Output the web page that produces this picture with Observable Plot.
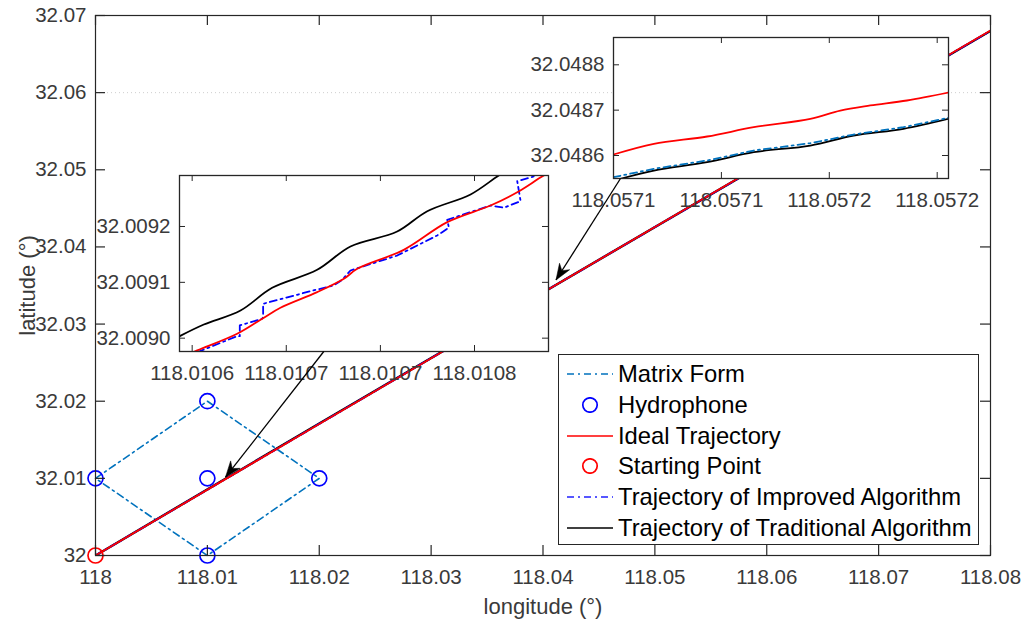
<!DOCTYPE html>
<html><head><meta charset="utf-8">
<script src="https://cdn.jsdelivr.net/npm/d3@7"></script>
<script src="https://cdn.jsdelivr.net/npm/@observablehq/plot@0.6"></script>
<style>
body{margin:0;background:#fff;}
#fig{position:relative;width:1024px;height:627px;overflow:hidden;font-family:"Liberation Sans",Arial,sans-serif;background:#fff;}
#fig > svg{position:absolute;max-width:none;}
.legend{position:absolute;left:558px;top:354px;width:421px;height:191px;border:1.5px solid #262626;background:#fff;box-sizing:border-box;padding-top:3.5px;}
.legend .row{height:30.85px;display:flex;align-items:center;font-size:23.8px;color:#000;white-space:nowrap;}
.legend .row svg{position:static;display:block;margin-left:8px;margin-right:5px;flex:none;}
</style></head><body><div id="fig"></div>
<script>
// ---------- data ----------
const xTicks = [118, 118.01, 118.02, 118.03, 118.04, 118.05, 118.06, 118.07, 118.08];
const xTickLabels = ["118", "118.01", "118.02", "118.03", "118.04", "118.05", "118.06", "118.07", "118.08"];
const yTicks = [32, 32.01, 32.02, 32.03, 32.04, 32.05, 32.06, 32.07];
const yTickLabels = ["32", "32.01", "32.02", "32.03", "32.04", "32.05", "32.06", "32.07"];
const gridLat = [32.06];
const xTitle = ["longitude (°)"];
const yTitle = ["latitude (°)"];

const hydrophoneLon = [118, 118.01, 118.01, 118.02, 118.01];
const hydrophoneLat = [32.01, 32.02, 32.01, 32.01, 32.0];
const matrixLon = [118, 118.01, 118.02, 118.01, 118];
const matrixLat = [32.01, 32.02, 32.01, 32.0, 32.01];
const startLon = [118];
const startLat = [32];

const mainLon = [118, 118.0107, 118.02, 118.04, 118.0571, 118.08];
const idealLat = [32, 32.00912, 32.01705, 32.03408, 32.04862, 32.06806];
const traditionalLat = [32, 32.00917, 32.0171, 32.0341, 32.04858, 32.068];
const improvedLat = [32, 32.00913, 32.01706, 32.03409, 32.04858, 32.06802];

// zoom arrows (tail -> tip)
const arrowTailLon = [118.020406, 118.046927];
const arrowTailLat = [32.026444, 32.048870];
const arrowTipLon = [118.011620, 118.041162];
const arrowTipLat = [32.010150, 32.035713];

// inset 1 (near 118.0107, 32.0091)
const inset1XTicks = [118.0106, 118.01065, 118.0107, 118.01075];
const inset1XTickLabels = ["118.0106", "118.0107", "118.0107", "118.0108"];
const inset1YTicks = [32.00905, 32.0091, 32.00915];
const inset1YTickLabels = ["32.0090", "32.0091", "32.0092"];
const inset1IdealLon = [118.01059, 118.0106027, 118.0106239, 118.0106372, 118.0106469, 118.0106664, 118.0106806, 118.0106877, 118.0107124, 118.0107355, 118.0107585, 118.0107727, 118.0107868, 118.010795];
const inset1IdealLat = [32.00903, 32.009039, 32.0090539, 32.0090674, 32.0090772, 32.0090912, 32.0091032, 32.0091121, 32.0091291, 32.0091539, 32.0091688, 32.0091807, 32.0091957, 32.009203];
const inset1TraditionalLon = [118.0105934, 118.0106062, 118.0106257, 118.0106425, 118.0106664, 118.0106841, 118.0107089, 118.0107249, 118.0107479, 118.0107629, 118.010775];
const inset1TraditionalLat = [32.0090518, 32.0090622, 32.0090748, 32.0090951, 32.0091112, 32.0091321, 32.0091455, 32.0091637, 32.0091787, 32.0091957, 32.009208];
const inset1ImprovedLon = [118.0106027, 118.0106239, 118.0106253, 118.0106253, 118.0106372, 118.0106377, 118.0106377, 118.0106629, 118.0106752, 118.0106797, 118.0106841, 118.0107089, 118.010716, 118.0107302, 118.0107364, 118.0107355, 118.0107585, 118.0107656, 118.0107745, 118.0107727, 118.0107815, 118.01079];
const inset1ImprovedLat = [32.0090374, 32.0090518, 32.0090518, 32.0090614, 32.0090674, 32.0090688, 32.0090808, 32.0090921, 32.0090972, 32.0091023, 32.0091106, 32.009124, 32.00913, 32.009142, 32.0091489, 32.009156, 32.0091688, 32.0091668, 32.0091727, 32.0091906, 32.0091948, 32.0092];

// inset 2 (near 118.0571, 32.0487)
const inset2XTicks = [118.05705, 118.0571, 118.05715, 118.0572];
const inset2XTickLabels = ["118.0571", "118.0571", "118.0572", "118.0572"];
const inset2YTicks = [32.0486, 32.0487, 32.0488];
const inset2YTickLabels = ["32.0486", "32.0487", "32.0488"];
const inset2IdealLon = [118.05705, 118.0570687, 118.0570934, 118.057115, 118.0571412, 118.0571551, 118.057169, 118.057186, 118.0572052];
const inset2IdealLat = [32.0486022, 32.0486258, 32.0486419, 32.0486624, 32.0486809, 32.0486992, 32.0487103, 32.0487213, 32.0487389];
const inset2TraditionalLon = [118.0570532, 118.0570687, 118.0570934, 118.057115, 118.0571412, 118.0571613, 118.0571844, 118.0572052];
const inset2TraditionalLat = [32.0485486, 32.0485669, 32.0485852, 32.0486073, 32.048622, 32.0486441, 32.0486589, 32.0486809];
const inset2ImprovedLon = [118.05705, 118.0570687, 118.0570934, 118.057115, 118.0571412, 118.0571613, 118.0571844, 118.0572052];
const inset2ImprovedLat = [32.0485522, 32.0485707, 32.048589, 32.048611, 32.0486271, 32.0486463, 32.0486624, 32.0486831];

const legendLabels = ["Matrix Form", "Hydrophone", "Ideal Trajectory", "Starting Point", "Trajectory of Improved Algorithm", "Trajectory of Traditional Algorithm"];

// ---------- styles ----------
const RED = "#ff0000", BLUE = "#0000ff", MATRIX = "#0072BD", BLACK = "#000000", AXIS = "#262626";
const DASHDOT = "7,4,2,4";
const FONT = '"Liberation Sans", Arial, sans-serif';
const rows = (xs, ys) => xs.map((x, i) => ({x, y: ys[i]}));
const fig = document.getElementById("fig");

// ---------- main axes ----------
const W = 1024, H = 627, mL = 95, mR = 34, mT = 15, mB = 72;
const fw = W - mL - mR, fh = H - mT - mB;
const xDom = [118, 118.08], yDom = [32, 32.07];

const main = Plot.plot({
  width: W, height: H, marginLeft: mL, marginRight: mR, marginTop: mT, marginBottom: mB,
  style: {fontFamily: FONT, fontSize: "20.5px", color: "#3a3a3a", background: "transparent", overflow: "visible"},
  x: {domain: xDom}, y: {domain: yDom},
  marks: [
    Plot.ruleY(gridLat, {y: d => d, stroke: "#cfcfcf", strokeDasharray: "1,3", strokeWidth: 1}),
    Plot.line(rows(matrixLon, matrixLat), {x: "x", y: "y", stroke: MATRIX, strokeWidth: 1.6, strokeDasharray: DASHDOT}),
    Plot.line(rows(mainLon, traditionalLat), {x: "x", y: "y", stroke: BLACK, strokeWidth: 2.4, clip: true}),
    Plot.line(rows(mainLon, improvedLat), {x: "x", y: "y", stroke: BLUE, strokeWidth: 2, strokeDasharray: DASHDOT, clip: true}),
    Plot.line(rows(mainLon, idealLat), {x: "x", y: "y", stroke: RED, strokeWidth: 1.8, clip: true}),
    Plot.dot(rows(hydrophoneLon, hydrophoneLat), {x: "x", y: "y", r: 7.5, stroke: BLUE, strokeWidth: 1.7, fill: "none"}),
    Plot.dot(rows(startLon, startLat), {x: "x", y: "y", r: 7.5, stroke: RED, strokeWidth: 1.7, fill: "none"}),
    Plot.frame({stroke: AXIS, strokeWidth: 1.2}),
    Plot.tickX(xTicks, {x: d => d, insetTop: fh - 10, stroke: AXIS, strokeWidth: 1.2}),
    Plot.tickX(xTicks, {x: d => d, insetBottom: fh - 10, stroke: AXIS, strokeWidth: 1.2}),
    Plot.tickY(yTicks, {y: d => d, insetRight: fw - 10, stroke: AXIS, strokeWidth: 1.2}),
    Plot.tickY(yTicks, {y: d => d, insetLeft: fw - 10, stroke: AXIS, strokeWidth: 1.2}),
    Plot.axisX(xTicks, {tickSize: 0, tickPadding: 14, tickFormat: d => xTickLabels[xTicks.indexOf(d)], label: null}),
    Plot.axisY(yTicks, {tickSize: 0, tickPadding: 9, tickFormat: d => yTickLabels[yTicks.indexOf(d)], label: null}),
    Plot.text(xTitle, {text: d => d, frameAnchor: "bottom", dy: 51, lineAnchor: "middle", fontSize: 22, fill: "#3a3a3a"}),
    Plot.text(yTitle, {text: d => d, frameAnchor: "left", dx: -68, rotate: -90, textAnchor: "middle", lineAnchor: "middle", fontSize: 22, fill: "#3a3a3a"})
  ]
});
main.style.left = "0px"; main.style.top = "0px";
fig.appendChild(main);

// ---------- insets ----------
function inset(o) {
  const iL = 100, iR = 45, iT = 2, iB = 40;
  const p = Plot.plot({
    width: o.width + iL + iR, height: o.height + iT + iB,
    marginLeft: iL, marginRight: iR, marginTop: iT, marginBottom: iB,
    style: {fontFamily: FONT, fontSize: "20.5px", color: "#3a3a3a", background: "transparent", overflow: "visible"},
    x: {domain: o.xDomain}, y: {domain: o.yDomain},
    marks: [
      Plot.frame({fill: "white", stroke: "none"}),
      Plot.line(rows(o.tradLon, o.tradLat), {x: "x", y: "y", stroke: BLACK, strokeWidth: 1.8, curve: "catmull-rom", clip: true}),
      Plot.line(rows(o.impLon, o.impLat), {x: "x", y: "y", stroke: o.impColor, strokeWidth: 1.8, strokeDasharray: DASHDOT, clip: true}),
      Plot.line(rows(o.idealLon, o.idealLat), {x: "x", y: "y", stroke: RED, strokeWidth: 1.8, curve: "catmull-rom", clip: true}),
      Plot.frame({stroke: AXIS, strokeWidth: 1.3}),
      Plot.tickX(o.xTicks, {x: d => d, insetTop: o.height - 6, stroke: AXIS}),
      Plot.tickX(o.xTicks, {x: d => d, insetBottom: o.height - 6, stroke: AXIS}),
      Plot.tickY(o.yTicks, {y: d => d, insetRight: o.width - 6, stroke: AXIS}),
      Plot.tickY(o.yTicks, {y: d => d, insetLeft: o.width - 6, stroke: AXIS}),
      Plot.axisX(o.xTicks, {tickSize: 0, tickPadding: 14, tickFormat: d => o.xLabels[o.xTicks.indexOf(d)], label: null}),
      Plot.axisY(o.yTicks, {tickSize: 0, tickPadding: 9, tickFormat: d => o.yLabels[o.yTicks.indexOf(d)], label: null})
    ]
  });
  p.style.left = (o.left - iL) + "px";
  p.style.top = (o.top - iT) + "px";
  fig.appendChild(p);
}

inset({
  left: 179, top: 175, width: 369, height: 176,
  xDomain: [118.01059327, 118.01078931], yDomain: [32.00903806, 32.00919567],
  xTicks: inset1XTicks, xLabels: inset1XTickLabels, yTicks: inset1YTicks, yLabels: inset1YTickLabels,
  idealLon: inset1IdealLon, idealLat: inset1IdealLat,
  tradLon: inset1TraditionalLon, tradLat: inset1TraditionalLat,
  impLon: inset1ImprovedLon, impLat: inset1ImprovedLat, impColor: BLUE
});
inset({
  left: 613, top: 37, width: 335, height: 141,
  xDomain: [118.05705, 118.05720524], yDomain: [32.0485493, 32.0488602],
  xTicks: inset2XTicks, xLabels: inset2XTickLabels, yTicks: inset2YTicks, yLabels: inset2YTickLabels,
  idealLon: inset2IdealLon, idealLat: inset2IdealLat,
  tradLon: inset2TraditionalLon, tradLat: inset2TraditionalLat,
  impLon: inset2ImprovedLon, impLat: inset2ImprovedLat, impColor: MATRIX
});

// ---------- arrows (overlay, same scales as main) ----------
const arrows = arrowTailLon.map((_, i) => {
  const dx = (arrowTipLon[i] - arrowTailLon[i]) * fw / (xDom[1] - xDom[0]);
  const dy = -(arrowTipLat[i] - arrowTailLat[i]) * fh / (yDom[1] - yDom[0]);
  return {x1: arrowTailLon[i], y1: arrowTailLat[i], x2: arrowTipLon[i], y2: arrowTipLat[i],
          angle: Math.atan2(dx, -dy) * 180 / Math.PI};
});
const headSymbol = {draw(ctx) { ctx.moveTo(0, 0); ctx.lineTo(-6, 16); ctx.lineTo(0, 11); ctx.lineTo(6, 16); ctx.closePath(); }};
const overlay = Plot.plot({
  width: W, height: H, marginLeft: mL, marginRight: mR, marginTop: mT, marginBottom: mB,
  style: {background: "transparent", overflow: "visible"},
  x: {domain: xDom, axis: null}, y: {domain: yDom, axis: null},
  marks: [
    Plot.link(arrows, {x1: "x1", y1: "y1", x2: "x2", y2: "y2", stroke: BLACK, strokeWidth: 1.3}),
    ...arrows.map(a => Plot.dot([a], {x: "x2", y: "y2", symbol: headSymbol, r: 1, fill: BLACK, stroke: BLACK, strokeWidth: 0.5, rotate: a.angle}))
  ]
});
overlay.style.left = "0px"; overlay.style.top = "0px";
fig.appendChild(overlay);

// ---------- legend ----------
const swatches = [
  {type: "line", color: MATRIX, dash: DASHDOT},
  {type: "circle", color: BLUE},
  {type: "line", color: RED, dash: null},
  {type: "circle", color: RED},
  {type: "line", color: "#2020ff", dash: DASHDOT},
  {type: "line", color: BLACK, dash: null}
];
const legend = document.createElement("div");
legend.className = "legend";
legendLabels.forEach((label, i) => {
  const s = swatches[i];
  const row = document.createElement("div");
  row.className = "row";
  const sym = s.type === "line"
    ? `<line x1="0" y1="8" x2="46" y2="8" stroke="${s.color}" stroke-width="1.6"${s.dash ? ` stroke-dasharray="${s.dash}"` : ""}/>`
    : `<circle cx="23" cy="8" r="7.2" fill="none" stroke="${s.color}" stroke-width="1.7"/>`;
  row.innerHTML = `<svg width="46" height="16" viewBox="0 0 46 16">${sym}</svg><span>${label}</span>`;
  legend.appendChild(row);
});
fig.appendChild(legend);
</script>
</body></html>
